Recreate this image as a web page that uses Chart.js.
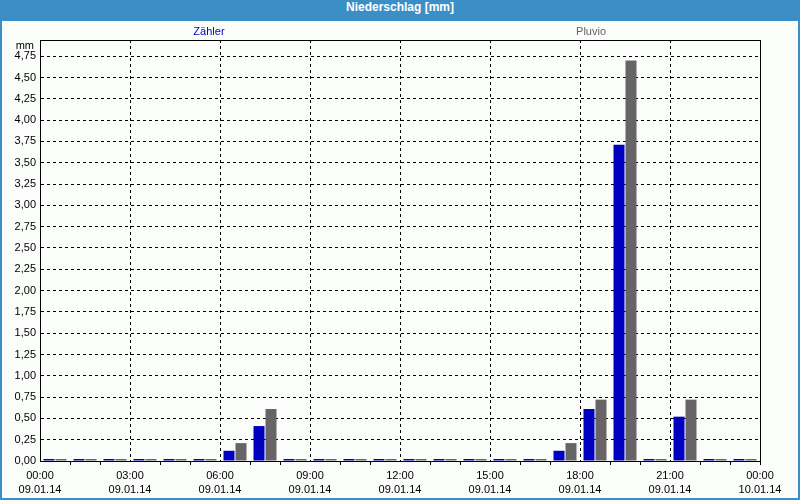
<!DOCTYPE html>
<html>
<head>
<meta charset="utf-8">
<script src="https://cdn.jsdelivr.net/npm/chart.js@4"></script>
<style>
  body { margin: 0; background: #fff; }
  #frame {
    width: 800px; height: 500px; box-sizing: border-box;
    border: 2px solid #3c8fc6; border-top: 0;
    background: #fbfdfb;
  }
  #head {
    height: 21px; line-height: 20px; margin: 0 -2px;
    background: #3c8fc6; color: #fff; text-align: center;
    font: bold 12px "Liberation Sans", Arial, sans-serif;
  }
  #wrap { position: relative; width: 796px; height: 477px; }
</style>
</head>
<body>
<div id="frame">
  <div id="head">Niederschlag [mm]</div>
  <div id="wrap"><canvas id="rainChart"></canvas></div>
</div>
<script>
// hourly bins 00-01 ... 23-24
const hours = ['00', '01', '02', '03', '04', '05', '06', '07', '08', '09', '10', '11',
               '12', '13', '14', '15', '16', '17', '18', '19', '20', '21', '22', '23'];
const zaehler = [0, 0, 0, 0, 0, 0, 0.12, 0.41, 0, 0, 0, 0,
                 0, 0, 0, 0, 0, 0.12, 0.61, 3.71, 0, 0.52, 0, 0];
const pluvio = [0, 0, 0, 0, 0, 0, 0.21, 0.61, 0, 0, 0, 0,
                0, 0, 0, 0, 0, 0.21, 0.72, 4.70, 0, 0.72, 0, 0];
const timeLabels = ['00:00', '03:00', '06:00', '09:00', '12:00', '15:00', '18:00', '21:00', '00:00'];
const dateLabels = ['09.01.14', '09.01.14', '09.01.14', '09.01.14', '09.01.14',
                    '09.01.14', '09.01.14', '09.01.14', '10.01.14'];

Chart.defaults.font.family = '"Liberation Sans", Arial, sans-serif';
Chart.defaults.font.size = 11;
Chart.defaults.color = '#000';

// frame around plot, unit label and the two legend texts
const extras = {
    id: 'extras',
    afterDatasetsDraw(chart) {
        const { ctx, chartArea: a } = chart;
        ctx.save();
        ctx.strokeStyle = '#000';
        ctx.lineWidth = 1;
        ctx.strokeRect(a.left + 0.5, a.top + 0.5, a.right - a.left, a.bottom - a.top);
        ctx.restore();
    },
    afterDraw(chart) {
        const { ctx, chartArea: a } = chart;
        ctx.save();
        ctx.font = '11px "Liberation Sans", Arial, sans-serif';
        ctx.textBaseline = 'middle';
        ctx.textAlign = 'right';
        ctx.fillStyle = '#000';
        ctx.fillText('mm', a.left - 6, a.top + 6);
        ctx.textAlign = 'center';
        const spots = [0.26, 0.74];
        chart.data.datasets.forEach((ds, i) => {
            ctx.fillStyle = ds.backgroundColor;
            ctx.fillText(ds.label, chart.width * spots[i], 11);
        });
        ctx.restore();
    }
};

const ctx = document.getElementById('rainChart').getContext('2d');

new Chart(ctx, {
    type: 'bar',
    data: {
        labels: hours,
        datasets: [
            { label: 'Zähler', data: zaehler, backgroundColor: '#0000c0' },
            { label: 'Pluvio', data: pluvio, backgroundColor: '#666466' }
        ]
    },
    options: {
        responsive: true,
        maintainAspectRatio: false,
        animation: false,
        layout: { padding: { top: 19, right: 38, left: 0, bottom: 0 } },
        datasets: {
            bar: { categoryPercentage: 0.8, barPercentage: 0.917, minBarLength: 2 }
        },
        plugins: {
            legend: { display: false },
            tooltip: { enabled: false }
        },
        scales: {
            x: {
                weight: 0,
                ticks: { display: false },
                grid: {
                    drawOnChartArea: false,
                    tickLength: 4,
                    color: c => (c.index % 3 === 0 ? 'rgba(0,0,0,0)' : '#000')
                },
                border: { display: true, color: '#000' },
                afterFit: s => { s.height = 4; }
            },
            x2: {
                type: 'linear',
                position: 'bottom',
                axis: 'x',
                weight: 1,
                offset: false,
                min: 0,
                max: 24,
                ticks: {
                    stepSize: 3,
                    autoSkip: false,
                    maxRotation: 0,
                    padding: 4,
                    font: { lineHeight: 1.3 },
                    callback: (v, i) => [timeLabels[i], dateLabels[i]]
                },
                grid: { drawTicks: false, offset: false, color: '#000' },
                border: { display: false, dash: [3, 3] },
                afterFit: s => { s.height = 33; }
            },
            y: {
                min: 0,
                max: 4.94,
                ticks: {
                    stepSize: 0.25,
                    includeBounds: false,
                    padding: 4,
                    callback: v => v.toFixed(2).replace('.', ',')
                },
                grid: { drawTicks: false, color: '#000' },
                border: { display: true, color: '#000', dash: [3, 3] },
                afterFit: s => { s.width = 38; }
            }
        }
    },
    plugins: [extras]
});
</script>
</body>
</html>
